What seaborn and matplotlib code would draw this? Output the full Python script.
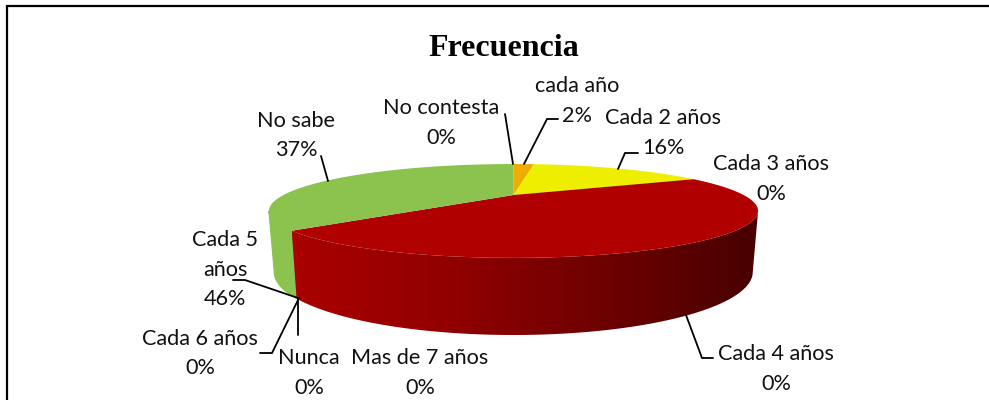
import numpy as np
import matplotlib
matplotlib.use("Agg")
import matplotlib.pyplot as plt
from matplotlib.patches import Polygon
import seaborn as sns

# --- data -------------------------------------------------------------
categories = ["cada año", "Cada 2 años", "Cada 3 años", "Cada 4 años", "Cada 5\naños",
              "Cada 6 años", "Nunca", "Mas de 7 años", "No sabe", "No contesta"]
shares = [1.9, 15.9, 0.0, 0.0, 45.6, 0.0, 0.0, 0.0, 36.6, 0.0]
title_text = "Frecuencia"

# --- style ------------------------------------------------------------
top_colors = {"cada año": "#F0AC00", "Cada 2 años": "#EEEE00",
              "Cada 5\naños": "#B00000", "No sabe": "#8BC34E"}
side_cmap = sns.blend_palette(["#AA0000", "#920000", "#6E0000", "#480000"], n_colors=256, as_cmap=True)

# label centre (x, y of first line), in figure pixels
label_pos = {"cada año": (577, 86), "Cada 2 años": (663, 118), "Cada 3 años": (771, 164),
             "Cada 4 años": (776, 354), "Cada 5\naños": (225, 240), "Cada 6 años": (200, 339),
             "Nunca": (309, 358), "Mas de 7 años": (420, 358), "No sabe": (296, 121),
             "No contesta": (441, 108)}
leaders = [[(505, 114), (513, 164)],
           [(558, 119), (547, 119), (524, 164)],
           [(638, 153), (625, 153), (618, 169)],
           [(321, 156), (328, 181)],
           [(233, 280), (245, 280), (298, 298)],
           [(260, 353), (272, 353), (299, 298)],
           [(298, 298), (298, 335)],
           [(713, 358), (702, 358), (686, 315)]]

CX, TILT = 513.5, 0.34
TOP = dict(w=230.0, h=41.5, cy=195.0)
BOT = dict(w=225.0, h=55.7, cy=250.6)
RIGHT_EDGE, LEFT_EDGE = 110.0, 250.0   # angles where the wall meets the silhouette


def project(theta_deg, plane):
    t = np.radians(theta_deg)
    x, y = np.sin(t), np.cos(t)
    d = 1 + TILT * y
    return CX + plane["w"] * x / d, plane["cy"] - plane["h"] * y / d


def wall(a, b):
    ang = np.linspace(a, b, 200)
    tx, ty = project(ang, TOP)
    bx, by = project(ang, BOT)
    return np.c_[np.r_[tx, bx[::-1]], np.r_[ty, by[::-1]]]


sns.set_theme(style="white")
LABEL_FONT = ["Lato", "DejaVu Sans"]
fig = plt.figure(figsize=(9.89, 4.0), dpi=100, facecolor="white")
ax = fig.add_axes([0, 0, 1, 1])

# chart frame (only left and top fall inside the picture)
ax.plot([7, 7, 989], [400, 6, 6], color="black", lw=1.6, solid_joinstyle="miter")

# wedge angles from the shares
total = sum(shares)
edges = np.cumsum([0.0] + list(shares)) / total * 360.0
spans = {c: (edges[i], edges[i + 1]) for i, c in enumerate(categories) if shares[i] > 0}
red = spans["Cada 5\naños"]
green = spans["No sabe"]

# pie walls
ax.add_patch(Polygon(wall(green[0], LEFT_EDGE), closed=True, facecolor=top_colors["No sabe"],
                     edgecolor=top_colors["No sabe"], lw=0.8))
img = ax.imshow(np.linspace(0, 1, 256)[None, :], extent=[292, 758, 400, 0], cmap=side_cmap,
                aspect="auto", interpolation="bilinear", zorder=1.5)
clip = Polygon(wall(RIGHT_EDGE, red[1]), closed=True, transform=ax.transData)
img.set_clip_path(clip)

# top faces
for cat, (a, b) in spans.items():
    ang = np.linspace(a, b, 200)
    x, y = project(ang, TOP)
    ax.fill(np.r_[CX, x], np.r_[TOP["cy"], y], color=top_colors[cat], lw=0, zorder=2)

# leader lines
for pts in leaders:
    xs, ys = zip(*pts)
    ax.plot(xs, ys, color="black", lw=1.3, solid_joinstyle="miter", zorder=5)

# labels
for cat, val in zip(categories, shares):
    x0, y0 = label_pos[cat]
    parts = cat.split("\n") + [f"{round(val)}%"]
    for k, line in enumerate(parts):
        ax.text(x0, y0 + k * 29.5, line, ha="center", va="center", color="#111111",
                fontsize=15.6, family=LABEL_FONT, zorder=6)

ax.text(504, 49, title_text, ha="center", va="center", color="black",
        fontsize=23, fontweight="bold", family="Liberation Serif")

ax.set_xlim(0, 989)
ax.set_ylim(400, 0)
ax.axis("off")
fig.savefig("out.png", dpi=100)
